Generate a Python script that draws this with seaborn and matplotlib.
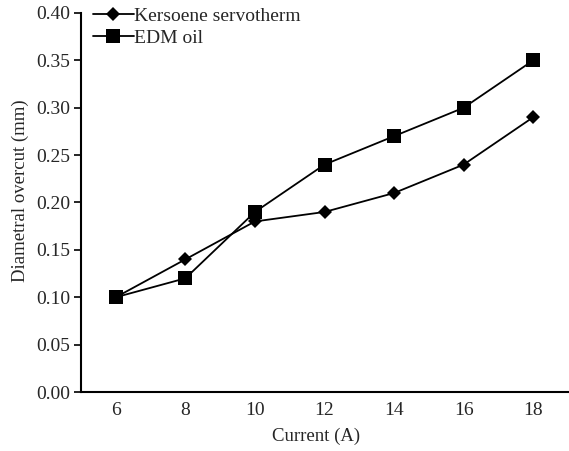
import pandas as pd
import numpy as np
import matplotlib
matplotlib.use('Agg')
import matplotlib.pyplot as plt
import seaborn as sns

current = ['6', '8', '10', '12', '14', '16', '18']
kerosene = [0.10, 0.14, 0.18, 0.19, 0.21, 0.24, 0.29]
edm_oil = [0.10, 0.12, 0.19, 0.24, 0.27, 0.30, 0.35]

sns.set_style('white')
plt.rcParams['font.family'] = ['Liberation Serif', 'DejaVu Serif']
plt.rcParams['font.size'] = 14

df = pd.DataFrame({
    'pos': list(range(len(current))) * 2,
    'overcut': kerosene + edm_oil,
    'fluid': ['Kersoene servotherm'] * len(current) + ['EDM oil'] * len(current),
})

fig = plt.figure(figsize=(5.69, 4.51), dpi=100)
ax = fig.add_axes([0.1424, 0.1308, 0.8558, 0.8404])

sns.lineplot(data=df, x='pos', y='overcut', style='fluid',
             markers={'Kersoene servotherm': 'D', 'EDM oil': 's'},
             dashes=False, color='black', linewidth=1.3,
             markersize=7.5, markeredgewidth=0, ax=ax, sort=False)
# bigger squares for EDM oil
for line in ax.lines:
    if line.get_marker() == 's':
        line.set_markersize(10.5)

ax.set_xlim(-0.5, len(current) - 0.5)
ax.set_ylim(0, 0.40)
ax.set_yticks(np.arange(0, 0.401, 0.05))
ax.set_yticklabels([f'{v:.2f}' for v in np.arange(0, 0.401, 0.05)])
ax.set_xticks(np.arange(-0.5, len(current)), labels=[])
ax.set_xticks(range(len(current)), labels=current, minor=True)
ax.tick_params(axis='x', which='major', direction='out', length=5, width=1.2, color='black')
ax.tick_params(axis='x', which='minor', length=0, pad=7, labelsize=14)
ax.tick_params(axis='y', direction='out', length=5, width=1.2, color='black', labelsize=14, left=True, pad=3)

for s in ['top', 'right']:
    ax.spines[s].set_visible(False)
for s in ['left', 'bottom']:
    ax.spines[s].set_color('black')
    ax.spines[s].set_linewidth(1.5)

ax.set_xlabel('Current (A)', fontsize=13.5)
ax.set_ylabel('Diametral overcut (mm)', fontsize=13.5)
ax.xaxis.set_label_coords(0.483, -0.093)
ax.yaxis.set_label_coords(-0.107, 0.53)

leg = ax.legend(loc='upper left', bbox_to_anchor=(0.0, 1.045), frameon=False,
                handlelength=2.1, handletextpad=0.0, labelspacing=0.2,
                fontsize=14, borderaxespad=0.2)
for h in leg.legend_handles:
    h.set_color('black')

fig.savefig('out.png', dpi=100)
